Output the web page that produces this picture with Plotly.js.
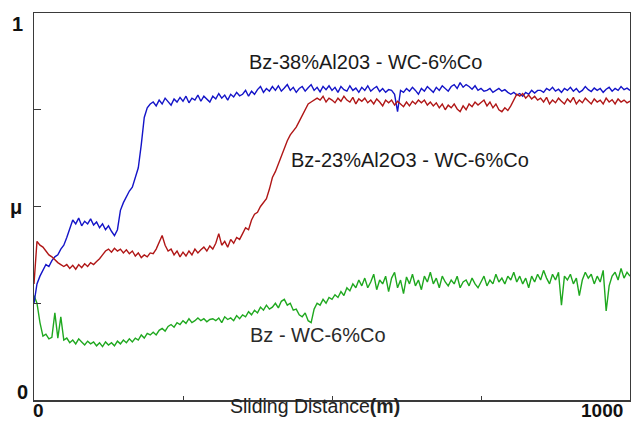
<!DOCTYPE html>
<html>
<head>
<meta charset="utf-8">
<script src="https://cdn.plot.ly/plotly-3.0.1.min.js"></script>
<style>html,body{margin:0;padding:0;background:#fff;}#chart{width:631px;height:422px;}</style>
</head>
<body>
<div id="chart"></div>
<script>
// Sliding distance (m)
const distance = [
0,5,10,15,20,25,30,35,40,45,50,55,60,65,70,75,80,85,90,95,
100,105,110,115,120,125,130,135,140,145,150,155,160,165,170,175,180,185,190,195,
200,205,210,215,220,225,230,235,240,245,250,255,260,265,270,275,280,285,290,295,
300,305,310,315,320,325,330,335,340,345,350,355,360,365,370,375,380,385,390,395,
400,405,410,415,420,425,430,435,440,445,450,455,460,465,470,475,480,485,490,495,
500,505,510,515,520,525,530,535,540,545,550,555,560,565,570,575,580,585,590,595,
600,605,610,615,620,625,630,635,640,645,650,655,660,665,670,675,680,685,690,695,
700,705,710,715,720,725,730,735,740,745,750,755,760,765,770,775,780,785,790,795,
800,805,810,815,820,825,830,835,840,845,850,855,860,865,870,875,880,885,890,895,
900,905,910,915,920,925,930,935,940,945,950,955,960,965,970,975,980,985,990,995,
1000];

// Friction coefficient: Bz-38%Al2O3 vs WC-6%Co (blue)
const muAl38 = [
0.25,0.30,0.32,0.335,0.35,0.345,0.36,0.37,0.375,0.39,
0.40,0.42,0.44,0.465,0.455,0.47,0.45,0.462,0.455,0.468,
0.452,0.46,0.445,0.455,0.44,0.45,0.436,0.425,0.44,0.49,
0.51,0.525,0.54,0.55,0.575,0.60,0.66,0.73,0.755,0.765,
0.77,0.76,0.775,0.765,0.78,0.77,0.762,0.778,0.77,0.782,
0.772,0.785,0.768,0.78,0.775,0.788,0.772,0.785,0.778,0.77,
0.785,0.778,0.792,0.78,0.788,0.775,0.79,0.783,0.795,0.786,
0.79,0.80,0.785,0.798,0.79,0.802,0.81,0.795,0.805,0.798,
0.81,0.80,0.812,0.798,0.806,0.815,0.80,0.808,0.795,0.805,
0.81,0.798,0.807,0.815,0.80,0.808,0.796,0.81,0.802,0.812,
0.80,0.808,0.795,0.81,0.802,0.798,0.812,0.80,0.806,0.795,
0.808,0.80,0.812,0.798,0.805,0.81,0.797,0.805,0.795,0.802,
0.80,0.79,0.745,0.80,0.795,0.805,0.798,0.808,0.80,0.79,
0.805,0.798,0.81,0.802,0.795,0.808,0.80,0.812,0.805,0.798,
0.81,0.815,0.805,0.82,0.808,0.815,0.81,0.803,0.812,0.80,
0.805,0.798,0.80,0.805,0.795,0.80,0.805,0.798,0.802,0.795,
0.79,0.795,0.788,0.792,0.785,0.795,0.79,0.80,0.793,0.80,
0.80,0.795,0.805,0.80,0.808,0.798,0.803,0.795,0.805,0.80,
0.808,0.798,0.805,0.795,0.80,0.81,0.802,0.797,0.806,0.80,
0.805,0.795,0.803,0.808,0.798,0.805,0.80,0.81,0.802,0.806,
0.80];

// Friction coefficient: Bz-23%Al2O3 vs WC-6%Co (red)
const muAl23 = [
0.30,0.41,0.40,0.395,0.385,0.375,0.37,0.362,0.355,0.35,
0.345,0.35,0.34,0.348,0.338,0.35,0.342,0.352,0.345,0.355,
0.35,0.358,0.365,0.375,0.385,0.39,0.382,0.392,0.385,0.39,
0.38,0.388,0.378,0.385,0.372,0.38,0.368,0.375,0.37,0.38,
0.378,0.39,0.41,0.425,0.40,0.385,0.39,0.375,0.385,0.37,
0.382,0.372,0.385,0.375,0.39,0.38,0.388,0.395,0.385,0.398,
0.39,0.405,0.43,0.40,0.41,0.395,0.415,0.405,0.42,0.415,
0.43,0.445,0.44,0.465,0.48,0.485,0.50,0.51,0.52,0.545,
0.575,0.59,0.61,0.635,0.655,0.67,0.685,0.695,0.705,0.72,
0.735,0.75,0.765,0.77,0.775,0.78,0.775,0.785,0.77,0.78,
0.775,0.768,0.78,0.772,0.785,0.775,0.77,0.782,0.765,0.778,
0.772,0.78,0.768,0.775,0.765,0.778,0.77,0.76,0.775,0.768,
0.775,0.762,0.772,0.765,0.758,0.77,0.76,0.772,0.765,0.775,
0.768,0.775,0.762,0.77,0.76,0.768,0.755,0.765,0.75,0.762,
0.755,0.765,0.752,0.745,0.76,0.75,0.765,0.758,0.77,0.762,
0.768,0.775,0.76,0.77,0.755,0.765,0.75,0.745,0.755,0.748,
0.76,0.775,0.79,0.785,0.792,0.78,0.788,0.778,0.785,0.775,
0.78,0.77,0.782,0.765,0.775,0.768,0.78,0.772,0.765,0.778,
0.77,0.782,0.765,0.775,0.768,0.78,0.772,0.765,0.778,0.77,
0.775,0.765,0.78,0.77,0.776,0.765,0.778,0.77,0.775,0.768,
0.772];

// Friction coefficient: Bz vs WC-6%Co (green)
const muBz = [
0.27,0.25,0.20,0.165,0.17,0.158,0.162,0.225,0.16,0.215,
0.155,0.16,0.148,0.155,0.145,0.158,0.15,0.142,0.152,0.145,
0.15,0.14,0.148,0.138,0.15,0.142,0.148,0.14,0.152,0.145,
0.155,0.148,0.158,0.15,0.16,0.155,0.168,0.16,0.172,0.168,
0.175,0.168,0.18,0.185,0.178,0.19,0.195,0.188,0.20,0.195,
0.205,0.198,0.21,0.20,0.205,0.212,0.205,0.21,0.202,0.208,
0.21,0.205,0.212,0.20,0.215,0.208,0.212,0.205,0.218,0.21,
0.22,0.215,0.228,0.22,0.232,0.225,0.24,0.232,0.245,0.235,
0.24,0.25,0.238,0.255,0.26,0.245,0.25,0.232,0.235,0.22,
0.215,0.225,0.205,0.20,0.235,0.25,0.245,0.26,0.25,0.265,
0.26,0.272,0.265,0.28,0.27,0.29,0.282,0.30,0.29,0.31,
0.295,0.315,0.29,0.305,0.325,0.285,0.31,0.30,0.32,0.28,
0.315,0.33,0.29,0.31,0.275,0.318,0.30,0.325,0.295,0.31,
0.285,0.32,0.305,0.33,0.30,0.315,0.29,0.32,0.305,0.295,
0.31,0.30,0.32,0.29,0.305,0.31,0.295,0.315,0.30,0.29,
0.305,0.32,0.295,0.31,0.30,0.325,0.305,0.315,0.30,0.32,
0.31,0.33,0.305,0.32,0.30,0.315,0.29,0.32,0.305,0.325,
0.31,0.335,0.315,0.30,0.325,0.31,0.33,0.245,0.32,0.31,
0.325,0.30,0.315,0.27,0.31,0.33,0.315,0.325,0.30,0.32,
0.305,0.335,0.23,0.295,0.32,0.33,0.31,0.34,0.315,0.33,
0.32];

const seriesNames = ['Bz - WC-6%Co', 'Bz-38%Al203 - WC-6%Co', 'Bz-23%Al2O3 - WC-6%Co'];
const seriesColors = ['#1fa81f', '#1414c8', '#b01616'];
const xTickVals = [250, 500, 750];
const yTickVals = [0.25, 0.5, 0.75];

const mk = (y, i) => ({
  x: distance, y: y, type: 'scatter', mode: 'lines', name: seriesNames[i],
  line: {color: seriesColors[i], width: 1.4}, hoverinfo: 'skip', showlegend: false
});
const data = [mk(muBz, 0), mk(muAl38, 1), mk(muAl23, 2)];

const axisBase = {
  showline: true, mirror: true, linecolor: '#3a3a3a', linewidth: 1.5,
  ticks: 'inside', tickcolor: '#3a3a3a', tickwidth: 1,
  showticklabels: false, showgrid: false, zeroline: false, fixedrange: true
};
const FONT = 'Liberation Sans, Arial, sans-serif';
const lab = (text, x, y, size, xanchor, color) => ({
  text: text, xref: 'paper', yref: 'paper', x: x, y: y, showarrow: false,
  xanchor: xanchor || 'center', yanchor: 'middle',
  font: {family: FONT, size: size, color: color || '#111'}
});

const layout = {
  width: 631, height: 422,
  margin: {l: 34, r: 1, t: 13, b: 22, pad: 0},
  paper_bgcolor: '#fff', plot_bgcolor: '#fff',
  font: {family: FONT},
  xaxis: Object.assign({}, axisBase, {range: [0, 1000], tickvals: xTickVals, ticklen: 4}),
  yaxis: Object.assign({}, axisBase, {range: [0, 1], tickvals: yTickVals, ticklen: 7}),
  annotations: [
    lab('<b>1</b>', -0.027, 0.972, 20),
    lab('<b>μ</b>', -0.030, 0.499, 20),
    lab('<b>0</b>', -0.019, 0.021, 20),
    lab('<b>0</b>', 0.007, -0.028, 19),
    lab('<b>1000</b>', 0.953, -0.027, 19),
    lab('Sliding Distance<b>(m)</b>', 0.3255, -0.015, 19.5, 'left', '#222'),
    lab(seriesNames[1], 0.557, 0.873, 20, 'center', '#1a1a1a'),
    lab(seriesNames[2], 0.631, 0.620, 20, 'center', '#1a1a1a'),
    lab(seriesNames[0], 0.4765, 0.168, 20, 'center', '#2a2a2a')
  ]
};

Plotly.newPlot('chart', data, layout, {staticPlot: true, displayModeBar: false});
</script>
</body>
</html>
